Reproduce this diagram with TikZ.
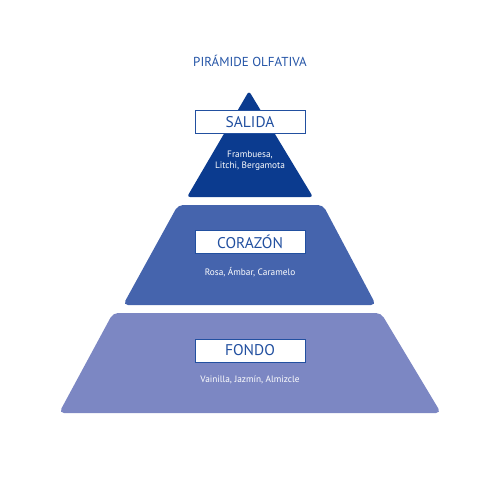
\documentclass[tikz,border=0pt]{standalone}
\usepackage{fontspec}
\setmainfont{PT Sans}
\definecolor{topc}{HTML}{0B3B8F}
\definecolor{midc}{HTML}{4564AD}
\definecolor{botc}{HTML}{7C87C3}
\definecolor{titc}{HTML}{2454A6}
\definecolor{boxc}{HTML}{2250A0}
\begin{document}
\begin{tikzpicture}[x=1pt,y=-1pt,
  tier/.style={rounded corners=5pt},
  label box/.style={draw=boxc, line width=1pt, fill=white, minimum width=110pt, minimum height=23pt, inner sep=0pt, font=\fontsize{15.5}{17}\selectfont, text=boxc},
  note/.style={text=white, font=\fontsize{9.3}{11}\selectfont, align=center, inner sep=0pt}]
\useasboundingbox (0,0) rectangle (500,500);
\node[text=titc, font=\fontsize{13}{15}\selectfont] (title) at (250,61) {PIRÁMIDE OLFATIVA};
% top triangle
\fill[topc, tier, rounded corners=3pt] (249,91) -- (313,197) -- (187,197) -- cycle;
% middle trapezoid
\fill[midc, tier] (178,205) -- (323,205) -- (376,305) -- (123,305) -- cycle;
% bottom trapezoid
\fill[botc, tier] (113,313) -- (381,313) -- (441,413) -- (59,413) -- cycle;
\node[label box] (salida) at (250,122) {SALIDA};
\node[note] (n1) at (250,161) {Frambuesa,\\Litchi, Bergamota};
\node[label box] (corazon) at (250,241.5) {CORAZÓN};
\node[note] (n2) at (250,272) {Rosa, Ámbar, Caramelo};
\node[label box] (fondo) at (250,350.5) {FONDO};
\node[note] (n3) at (250,380) {Vainilla, Jazmín, Almizcle};
\end{tikzpicture}
\end{document}
